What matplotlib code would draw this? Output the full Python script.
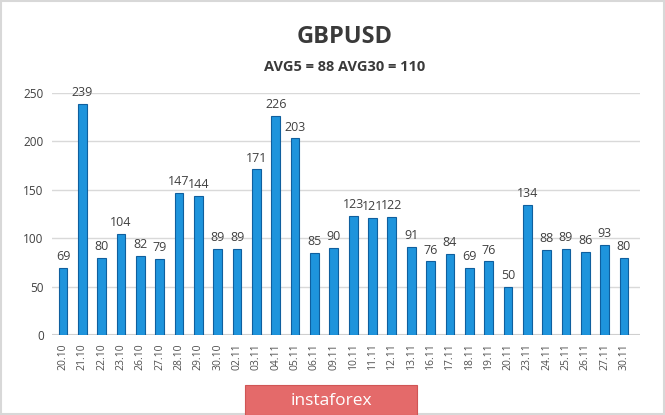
import numpy as np
import matplotlib
matplotlib.use("Agg")
import matplotlib.pyplot as plt
from matplotlib.patches import Rectangle

dates = ["20.10", "21.10", "22.10", "23.10", "26.10", "27.10", "28.10", "29.10",
         "30.10", "02.11", "03.11", "04.11", "05.11", "06.11", "09.11", "10.11",
         "11.11", "12.11", "13.11", "16.11", "17.11", "18.11", "19.11", "20.11",
         "23.11", "24.11", "25.11", "26.11", "27.11", "30.11"]
values = [69, 239, 80, 104, 82, 79, 147, 144, 89, 89, 171, 226, 203, 85, 90,
          123, 121, 122, 91, 76, 84, 69, 76, 50, 134, 88, 89, 86, 93, 80]
yticks = [0, 50, 100, 150, 200, 250]

plt.rcParams["font.family"] = ["Open Sans", "DejaVu Sans"]

W, H = 665, 415
fig = plt.figure(figsize=(W / 100, H / 100), dpi=100)
fig.patch.set_facecolor("white")

# light frame around the whole picture
fig.patches.append(Rectangle((0.002, 0.002), 0.996, 0.996, transform=fig.transFigure,
                             fill=False, edgecolor="#d8d8d8", lw=1.5))

ax = fig.add_axes([52 / W, 80 / H, 588 / W, 242 / H])
x = np.arange(len(values))
ax.bar(x, values, width=0.45, color="#1e94dc", edgecolor="#0f5f9e", linewidth=0.8,
       zorder=3)
for xi, v in zip(x, values):
    ax.text(xi, v + 5, str(v), ha="center", va="bottom", fontsize=9,
            color="#404040", zorder=4)

ax.set_xlim(-0.57, 29.83)
ax.set_ylim(0, 250)
ax.set_yticks(yticks)
ax.set_yticklabels([str(t) for t in yticks], fontsize=8.5, color="#404040")
ax.set_xticks(x)
ax.set_xticklabels(dates, rotation=90, fontsize=7.5, color="#505050")
ax.tick_params(length=0, pad=6)
ax.grid(axis="y", color="#d9d9d9", lw=1, zorder=0)
ax.axhline(0, color="#cfcfcf", lw=1.5, zorder=2)
for s in ax.spines.values():
    s.set_visible(False)

fig.text(0.518, 0.91, "GBPUSD", ha="center", va="center", fontsize=17,
         fontweight="bold", color="#3a3a3a")
fig.text(0.518, 0.838, "AVG5 = 88 AVG30 = 110", ha="center", va="center",
         fontsize=10.5, fontweight="bold", color="#3a3a3a")

# instaforex badge at the bottom
fig.patches.append(Rectangle((245 / W, 0), 172 / W, 30 / H, transform=fig.transFigure,
                             facecolor="#e46a6a", edgecolor="#d05555", lw=0.8))
fig.text(331 / W, 14 / H, "instaforex", ha="center", va="center", fontsize=12.5,
         color="white")

fig.savefig("out.png", dpi=100)
